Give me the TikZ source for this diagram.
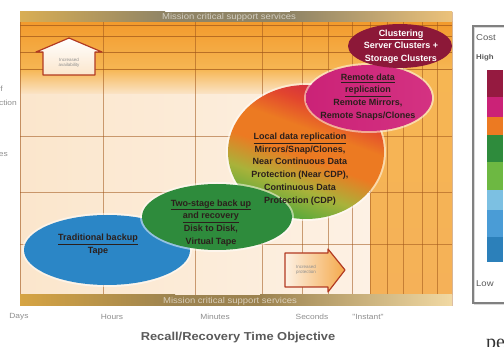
\documentclass[tikz,border=0pt]{standalone}
\usepackage{fontspec}
\setmainfont{Liberation Sans}
\newfontfamily\wide[FakeStretch=1.12]{Liberation Sans}
\newfontfamily\serifpe{Liberation Serif}
\definecolor{bandgold}{HTML}{D9AE55}
\definecolor{bandolive}{HTML}{8F8466}
\definecolor{bandright}{HTML}{ECC27A}
\definecolor{botgold}{HTML}{D6A443}
\definecolor{botdark}{HTML}{9C8350}
\definecolor{botlight}{HTML}{F1D9A3}
\definecolor{orangeA}{HTML}{F29A2C}
\definecolor{orangeB}{HTML}{F6B653}
\definecolor{creamA}{HTML}{FBE6CC}
\definecolor{creamB}{HTML}{FDF1E4}
\definecolor{instant}{HTML}{F5B158}
\definecolor{gridc}{HTML}{A0561A}
\definecolor{blueE}{HTML}{2B86C6}
\definecolor{greenE}{HTML}{2E8B3C}
\definecolor{magE}{HTML}{CB2277}
\definecolor{magF}{HTML}{D43282}
\definecolor{maroonE}{HTML}{8C1838}
\definecolor{locRed}{HTML}{D02A45}
\definecolor{locRO}{HTML}{E2452E}
\definecolor{locOrange}{HTML}{EC7A22}
\definecolor{locYG}{HTML}{A9B23A}
\definecolor{locGreen}{HTML}{4FA83C}
\definecolor{txtdark}{HTML}{2B1F1C}
\definecolor{axisgray}{HTML}{8E8E8E}
\definecolor{titlegray}{HTML}{5A5A5A}
\definecolor{edgered}{HTML}{B23A22}
\definecolor{legA}{HTML}{951A40}
\definecolor{legE}{HTML}{6DB842}
\definecolor{legF}{HTML}{7CC0E2}
\definecolor{legG}{HTML}{4A9CD6}
\definecolor{legH}{HTML}{2C80BA}
\pgfdeclareverticalshading{localshade}{100bp}{color(0bp)=(locGreen); color(25bp)=(locGreen); color(37bp)=(locYG); color(48bp)=(locOrange); color(58bp)=(locOrange); color(67bp)=(locRO); color(75bp)=(locRed); color(100bp)=(locRed)}
\tikzset{
  gridline/.style={draw=gridc, opacity=0.55, line width=0.8pt},
  gridlineup/.style={draw=gridc, opacity=0.7, line width=0.8pt},
  ovaltext/.style={font=\fontsize{9}{12.7}\selectfont\bfseries, align=center, text=txtdark, inner sep=0pt},
  axislbl/.style={font=\wide\fontsize{7.5}{8}\selectfont, text=axisgray, inner sep=0pt},
  bandtxt/.style={font=\wide\fontsize{8.5}{9}\selectfont, text=white, text opacity=0.6, inner sep=0pt},
  tinytxt/.style={font=\fontsize{4.5}{5}\selectfont, text=axisgray, align=center, inner sep=0pt},
  halo/.style={fill=white, opacity=0.5},
  legtxt/.style={font=\wide\fontsize{8.5}{9}\selectfont, text=titlegray, inner sep=0pt, anchor=west}
}
\begin{document}
\begin{tikzpicture}[x=1pt,y=-1pt]
\useasboundingbox (0,0) rectangle (504,347);
\fill[white] (0,0) rectangle (504,347);
% upper orange zone
\shade[top color=orangeA, bottom color=orangeB] (20,22) rectangle (452,69);
\shade[top color=orangeB, bottom color=creamA] (20,69) rectangle (452,95);
% lower cream zone
\shade[left color=creamA, right color=creamB] (20,95) rectangle (370,295);
% instant zone
\shade[top color=orangeB, bottom color=instant] (370,69) rectangle (452,295);
% grid
\foreach \gx in {103,195,262,302,328,352,370,387,403,422,437}
  \draw[gridline] (\gx,22) -- (\gx,295);
\foreach \gy in {25,36,52,69}
  \draw[gridlineup] (20,\gy) -- (452,\gy);
\foreach \gy in {136,192,244}
  \draw[gridline] (20,\gy) -- (452,\gy);
\draw[draw=gridc, opacity=0.6, line width=0.9pt] (20,12) -- (20,306);
\draw[draw=gridc, opacity=0.4, line width=0.9pt] (452,12) -- (452,306);
% top band
\shade[left color=bandgold, right color=bandolive] (20,12) rectangle (165,22);
\fill[bandolive] (165,12) rectangle (290,22);
\shade[left color=bandolive, right color=bandright] (290,12) rectangle (452,22);
\node[bandtxt] (topband) at (229,17) {Mission critical support services};
% bottom band
\shade[left color=botgold, right color=botdark] (20,295) rectangle (175,306);
\fill[botdark] (175,295) rectangle (260,306);
\shade[left color=botdark, right color=botlight] (260,295) rectangle (452,306);
\node[bandtxt] (botband) at (230,301) {Mission critical support services};
% increased availability house
\shade[top color=white, bottom color=creamA, draw=edgered, line width=1.2pt, line join=round]
  (69,38) -- (102,52) -- (95,52) -- (95,75) -- (43,75) -- (43,52) -- (36,52) -- cycle;
\node[tinytxt] (avail) at (69,63) {Increased\\availability};
% increased protection arrow
\shade[left color=creamB, right color=orangeA!85, draw=edgered, line width=1.2pt, line join=round]
  (285,253) -- (328,253) -- (328,249) -- (345,270) -- (328,292) -- (328,287) -- (285,287) -- cycle;
\node[tinytxt] (prot) at (306,270) {Increased\\protection};
% local data replication (big circle)
\fill[halo] (306,152) ellipse [x radius=80, y radius=69];
\shade[shading=localshade, shading angle=-20]
  (306,152) ellipse [x radius=78, y radius=67];
% traditional backup
\fill[halo] (107,250) ellipse [x radius=85, y radius=37];
\fill[blueE] (107,250) ellipse [x radius=83, y radius=35];
% two-stage
\fill[halo] (217,217) ellipse [x radius=77, y radius=35];
\fill[greenE] (217,217) ellipse [x radius=75, y radius=33];
% remote data replication
\fill[halo] (369,98) ellipse [x radius=65, y radius=35];
\shade[left color=magE, right color=magF] (369,98) ellipse [x radius=63, y radius=33];
% clustering
\fill[maroonE] (400,46) ellipse [x radius=52, y radius=22];
% texts in ovals
\node[ovaltext, text=white] (clus) at (401,46.5) {\underline{Clustering}\\Server Clusters +\\Storage Clusters};
\node[ovaltext] (remote) at (368,97) {\underline{Remote data}\\\underline{replication}\\Remote Mirrors,\\Remote Snaps/Clones};
\node[ovaltext] (local) at (300,169) {\underline{Local data replication}\\Mirrors/Snap/Clones,\\Near Continuous Data\\Protection (Near CDP),\\Continuous Data\\Protection (CDP)};
\node[ovaltext] (two) at (211,223) {\underline{Two-stage back up}\\\underline{and recovery}\\Disk to Disk,\\Virtual Tape};
\node[ovaltext] (trad) at (98,244.5) {\underline{Traditional backup}\\Tape};
% axis labels
\node[axislbl] (days) at (19,317) {Days};
\node[axislbl] (hours) at (112,317) {Hours};
\node[axislbl] (minutes) at (215,317) {Minutes};
\node[axislbl] (seconds) at (312,317) {Seconds};
\node[axislbl] (inst) at (368,317) {"Instant"};
\node[font=\wide\fontsize{11.5}{12}\selectfont\bfseries, text=titlegray, inner sep=0pt] (title) at (238,338) {Recall/Recovery Time Objective};
% cut-off left labels
\node[axislbl, anchor=east] (fragA) at (3,89) {f};
\node[axislbl, anchor=east] (fragB) at (17,103) {ction};
\node[axislbl, anchor=east] (fragC) at (8,155) {es};
% legend
\draw[draw=black!15, line width=1pt] (474.5,27.5) rectangle (512,305);
\draw[draw=black!50, line width=1.3pt] (473,26) rectangle (510,303);
\node[legtxt] (cost) at (476,38) {Cost};
\node[legtxt, font=\wide\fontsize{7}{8}\selectfont\bfseries] (high) at (476,58) {High};
\node[legtxt] (low) at (476,284) {Low};
\fill[legA] (487,70) rectangle (503,97);
\fill[magE] (487,97) rectangle (503,117);
\fill[locOrange] (487,117) rectangle (503,135);
\fill[greenE] (487,135) rectangle (503,162);
\fill[legE] (487,162) rectangle (503,190);
\fill[legF] (487,190) rectangle (503,210);
\fill[legG] (487,210) rectangle (503,237);
\fill[legH] (487,237) rectangle (503,262);
% cut-off text at bottom right
\node[font=\serifpe\fontsize{20}{22}\selectfont, text=black!80, anchor=base west, inner sep=0pt] (pe) at (486,349) {pe};
\end{tikzpicture}
\end{document}
